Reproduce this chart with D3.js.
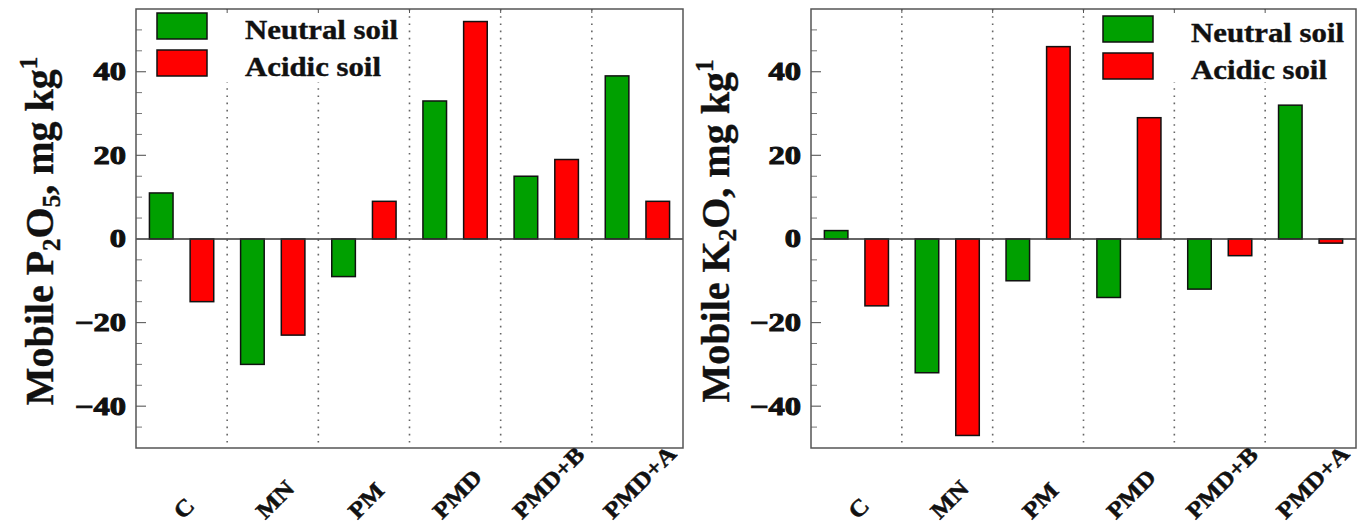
<!DOCTYPE html>
<html>
<head>
<meta charset="utf-8">
<script src="https://cdn.jsdelivr.net/npm/d3@7"></script>
<style>
  body { margin: 0; background: #fff; }
  text { font-family: "Liberation Serif", "Times New Roman", serif; font-weight: bold; fill: #111; }
</style>
</head>
<body>
<svg id="chart" width="1368" height="529"></svg>
<script>
// data
var categories = ['C', 'MN', 'PM', 'PMD', 'PMD+B', 'PMD+A'];
var seriesNames = ['Neutral soil', 'Acidic soil'];
var seriesColors = ['#00a000', '#ff0000'];
var p2o5Neutral = [11, -30, -9, 33, 15, 39];
var p2o5Acidic = [-15, -23, 9, 52, 19, 9];
var k2oNeutral = [2, -32, -10, -14, -12, 32];
var k2oAcidic = [-16, -47, 46, 29, -4, -1];
var yDomain = [-50, 55];
var yMajor = [-40, -20, 0, 20, 40];

var svg = d3.select('#chart');
var plotTop = 9, plotBottom = 448;

var y = d3.scaleLinear().domain(yDomain).range([plotBottom, plotTop]);

function drawPanel(p) {
    var g = svg.append('g');
    var x = d3.scaleBand().domain(categories).range([p.left, p.right]).padding(0);
    var sub = d3.scaleBand().domain([0, 1]).range([0, x.bandwidth()])
        .paddingInner(0.42).paddingOuter(0.33);

    // dotted separators between groups
    var bounds = categories.slice(1).map(function (c) { return x(c); });
    g.selectAll('.sep').data(bounds).enter().append('line')
        .attr('x1', function (d) { return d; })
        .attr('x2', function (d) { return d; })
        .attr('y1', plotTop).attr('y2', plotBottom)
        .attr('stroke', '#666').attr('stroke-width', 1.6)
        .attr('stroke-dasharray', '1.6,5.6');

    // bars
    var rows = [];
    categories.forEach(function (c, i) {
        rows.push({ cat: c, s: 0, v: p.neutral[i] });
        rows.push({ cat: c, s: 1, v: p.acidic[i] });
    });
    g.selectAll('.bar').data(rows).enter().append('rect')
        .attr('x', function (d) { return x(d.cat) + sub(d.s); })
        .attr('width', sub.bandwidth())
        .attr('y', function (d) { return y(Math.max(0, d.v)); })
        .attr('height', function (d) { return Math.abs(y(d.v) - y(0)); })
        .attr('fill', function (d) { return seriesColors[d.s]; })
        .attr('stroke', '#111').attr('stroke-width', 1.5);

    // zero line
    g.append('line')
        .attr('x1', p.left).attr('x2', p.right)
        .attr('y1', y(0)).attr('y2', y(0))
        .attr('stroke', '#333').attr('stroke-width', 1.5);

    // legend (white box hides separators)
    var lg = g.append('g');
    lg.append('rect')
        .attr('x', p.legBox[0]).attr('y', plotTop + 1)
        .attr('width', p.legBox[1] - p.legBox[0]).attr('height', 72)
        .attr('fill', '#fff');
    seriesNames.forEach(function (name, i) {
        lg.append('rect')
            .attr('x', p.legX).attr('y', p.legY + i * 37)
            .attr('width', 50).attr('height', 26)
            .attr('fill', seriesColors[i])
            .attr('stroke', '#111').attr('stroke-width', 1.5);
        lg.append('text')
            .attr('transform', 'translate(' + (p.legX + 88) + ',' + (p.legY + 26 + i * 37) + ') scale(1.1,1)')
            .attr('font-size', 28)
            .attr('stroke', '#111').attr('stroke-width', 0.4)
            .text(name);
    });

    // top ticks at group boundaries
    g.selectAll('.tt').data(bounds).enter().append('line')
        .attr('x1', function (d) { return d; })
        .attr('x2', function (d) { return d; })
        .attr('y1', plotTop).attr('y2', plotTop + 4)
        .attr('stroke', '#555').attr('stroke-width', 1);

    // left axis ticks, pointing inward
    var minor = d3.range(-45, 55, 5).filter(function (v) { return yMajor.indexOf(v) < 0; });
    g.selectAll('.mt').data(minor).enter().append('line')
        .attr('x1', p.left).attr('x2', p.left + 6)
        .attr('y1', function (d) { return y(d); })
        .attr('y2', function (d) { return y(d); })
        .attr('stroke', '#777').attr('stroke-width', 1);
    g.selectAll('.Mt').data(yMajor).enter().append('line')
        .attr('x1', p.left).attr('x2', p.left + 10)
        .attr('y1', function (d) { return y(d); })
        .attr('y2', function (d) { return y(d); })
        .attr('stroke', '#666').attr('stroke-width', 1.2);
    g.selectAll('.tl').data(yMajor).enter().append('text')
        .attr('transform', function (d) {
            return 'translate(' + (p.left - 10) + ',' + (y(d) + 8.5) + ') scale(1.3,1)';
        })
        .attr('text-anchor', 'end')
        .attr('font-size', 25)
        .attr('stroke', '#111').attr('stroke-width', 1)
        .text(function (d) { return d < 0 ? '\u2212' + Math.abs(d) : d; });

    // frame
    g.append('rect')
        .attr('x', p.left).attr('y', plotTop)
        .attr('width', p.right - p.left).attr('height', plotBottom - plotTop)
        .attr('fill', 'none').attr('stroke', '#555').attr('stroke-width', 1.5);

    // rotated category labels, bottoms aligned
    var fs = 23;
    g.selectAll('.cl').data(categories).enter().append('text')
        .attr('font-size', fs)
        .attr('text-anchor', 'middle')
        .attr('dy', '0.35em')
        .attr('stroke', '#111').attr('stroke-width', 0.5)
        .text(function (d) { return d; })
        .attr('transform', function (d) {
            var L = this.getComputedTextLength() * 1.12;
            var cx = x(d) + x.bandwidth() / 2 + 2;
            var cy = 520 - 0.707 * (L + 0.68 * fs) / 2;
            return 'translate(' + cx + ',' + cy + ') rotate(-45) scale(1.12,1)';
        });

    // y title
    var t = g.append('text')
        .attr('transform', 'translate(' + p.titleX + ',231) rotate(-90)')
        .attr('text-anchor', 'middle')
        .attr('font-size', 40)
        .attr('stroke', '#111').attr('stroke-width', 0.4);
    t.append('tspan').text('Mobile ' + p.el);
    t.append('tspan').attr('font-size', 25).attr('dy', 7).text(p.n1);
    t.append('tspan').attr('dy', -7).text('O');
    if (p.n2) t.append('tspan').attr('font-size', 25).attr('dy', 7).text(p.n2);
    t.append('tspan').attr('dy', p.n2 ? -7 : 0).text(', mg kg');
    t.append('tspan').attr('font-size', 25).attr('dy', -16).text('1');
}

drawPanel({ left: 136, right: 683, neutral: p2o5Neutral, acidic: p2o5Acidic,
    legX: 157, legY: 13, legBox: [137, 402], titleX: 53, el: 'P', n1: '2', n2: '5' });
drawPanel({ left: 811, right: 1356, neutral: k2oNeutral, acidic: k2oAcidic,
    legX: 1103, legY: 16, legBox: [1090, 1355], titleX: 729, el: 'K', n1: '2', n2: null });
</script>
</body>
</html>
